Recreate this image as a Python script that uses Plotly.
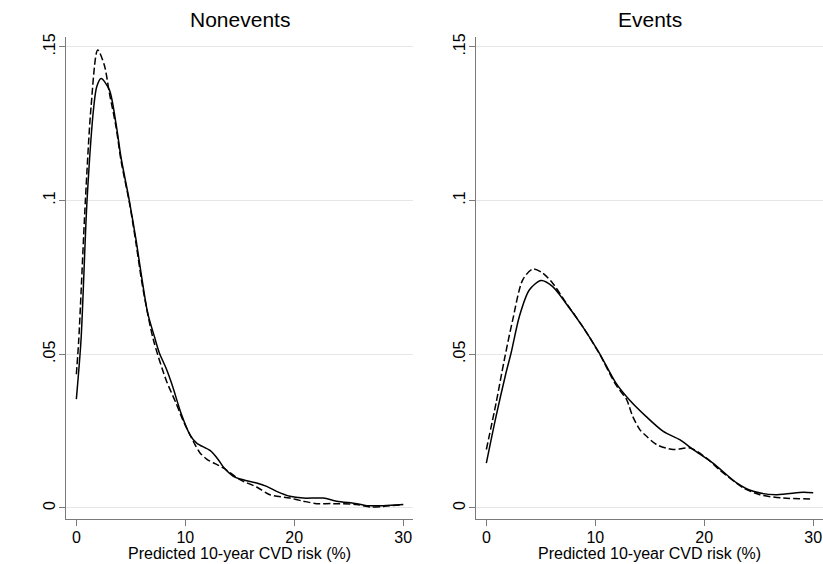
import plotly.graph_objects as go

# Kernel density of predicted 10-year CVD risk, two models per panel
# Nonevents panel
non_solid_x = [0, 0.43, 0.98, 1.6, 1.87, 2.27, 3.03, 3.64, 4.1, 4.86, 5.48, 5.94, 6.55,
               7.16, 7.62, 8.23, 8.84, 9.6, 10.43, 11.04, 12.27, 13.03, 13.49, 14.41,
               15.02, 16.55, 17.47, 18.38, 19.6, 20.83, 22.66, 23.89, 25.72, 26.64,
               28.17, 30.0]
non_solid_y = [0.0354, 0.0547, 0.100, 0.1305, 0.137, 0.1397, 0.136, 0.125, 0.114, 0.100,
               0.0872, 0.0764, 0.0634, 0.0558, 0.0504, 0.0455, 0.0395, 0.0309, 0.0238,
               0.0211, 0.0187, 0.0157, 0.0133, 0.0103, 0.0094, 0.0081, 0.0070, 0.0054,
               0.0038, 0.0032, 0.0032, 0.0022, 0.0014, 0.00075, 0.00075, 0.0011]

non_dash_x = [0, 0.22, 0.83, 1.35, 1.96, 2.57, 3.03, 3.64, 4.1, 4.86, 5.48, 5.94, 6.3,
              7.07, 8.23, 9.15, 9.76, 10.43, 10.89, 11.35, 11.96, 12.72, 13.49, 15.02,
              16.55, 17.77, 19.6, 20.83, 22.05, 23.58, 25.72, 26.94, 28.17, 30.0]
non_dash_y = [0.0435, 0.0547, 0.100, 0.1305, 0.149, 0.144, 0.135, 0.124, 0.113, 0.0995,
              0.086, 0.075, 0.0677, 0.0547, 0.0417, 0.0341, 0.0287, 0.0238, 0.0206,
              0.0179, 0.0159, 0.0144, 0.0130, 0.0092, 0.0068, 0.0043, 0.0032, 0.0022,
              0.0014, 0.0014, 0.0011, 0.0003, 0.0005, 0.0011]

# Events panel
ev_solid_x = [0, 0.89, 1.8, 2.27, 3.03, 3.94, 5.02, 6.09, 7.3, 8.84, 10.37, 11.9, 13.12,
              14.65, 16.24, 17.75, 18.99, 20.8, 23.0, 24.5, 26.6, 29.1, 30.0]
ev_solid_y = [0.0146, 0.0298, 0.0439, 0.0504, 0.0623, 0.0709, 0.074, 0.072, 0.0666,
              0.059, 0.0504, 0.0406, 0.0352, 0.0298, 0.0249, 0.0222, 0.019, 0.0146,
              0.0081, 0.0054, 0.0043, 0.0051, 0.0049]

ev_dash_x = [0, 0.89, 1.65, 2.42, 3.34, 4.26, 5.17, 6.09, 7.3, 8.84, 10.37, 11.9, 12.88,
             13.43, 14.1, 14.65, 15.63, 17.16, 18.7, 20.2, 21.4, 23.6, 25.1, 27.25, 30.0]
ev_dash_y = [0.019, 0.0341, 0.0482, 0.0612, 0.0742, 0.0777, 0.0764, 0.0731, 0.0668,
             0.059, 0.0502, 0.040, 0.0352, 0.0298, 0.0254, 0.0235, 0.0206, 0.019,
             0.0195, 0.0162, 0.0124, 0.0065, 0.0043, 0.0032, 0.0029]

panel_titles = ["Nonevents", "Events"]
x_title = "Predicted 10-year CVD risk (%)"
x_ticks = [0, 10, 20, 30]
y_ticks = [0, 0.05, 0.1, 0.15]
y_tick_text = ["0", ".05", ".1", ".15"]

FONT = "Liberation Sans, Arial, sans-serif"
AXIS_GRAY = "#7a7a7a"
GRID_GRAY = "#e6e6e6"

fig = go.Figure()

line_solid = dict(color="black", width=1.5, shape="spline", smoothing=0.8)
line_dash = dict(color="black", width=1.5, shape="spline", smoothing=0.8, dash="7px,3px")

fig.add_trace(go.Scatter(x=non_solid_x, y=non_solid_y, mode="lines", line=line_solid,
                         xaxis="x", yaxis="y", showlegend=False))
fig.add_trace(go.Scatter(x=non_dash_x, y=non_dash_y, mode="lines", line=line_dash,
                         xaxis="x", yaxis="y", showlegend=False))
fig.add_trace(go.Scatter(x=ev_solid_x, y=ev_solid_y, mode="lines", line=line_solid,
                         xaxis="x2", yaxis="y2", showlegend=False))
fig.add_trace(go.Scatter(x=ev_dash_x, y=ev_dash_y, mode="lines", line=line_dash,
                         xaxis="x2", yaxis="y2", showlegend=False))

x_common = dict(range=[-0.95, 30.9], tickvals=x_ticks, ticks="outside", ticklen=6,
                tickcolor=AXIS_GRAY, showline=True, linecolor=AXIS_GRAY, linewidth=1,
                showgrid=False, zeroline=False, tickfont=dict(size=16, color="black"),
                ticklabelstandoff=-2)
y_common = dict(range=[-0.0036, 0.1532], tickvals=y_ticks, ticktext=y_tick_text,
                ticks="outside", ticklen=6, tickcolor=AXIS_GRAY, showline=True,
                linecolor=AXIS_GRAY, linewidth=1, showgrid=True, gridcolor=GRID_GRAY,
                gridwidth=1, zeroline=False, tickangle=-90,
                tickfont=dict(size=16, color="black"), ticklabelstandoff=-2)

left_dom = [0, 347 / 757]
right_dom = [410 / 757, 1]

fig.update_layout(
    width=823, height=564,
    margin=dict(l=66, r=0, t=37, b=45),
    paper_bgcolor="white", plot_bgcolor="white",
    font=dict(family=FONT, color="black"),
    xaxis=dict(domain=left_dom, anchor="y", **x_common),
    yaxis=dict(domain=[0, 1], anchor="x", **y_common),
    xaxis2=dict(domain=right_dom, anchor="y2", **x_common),
    yaxis2=dict(domain=[0, 1], anchor="x2", **y_common),
)

# Panel titles and x-axis titles
for dom, title in zip([left_dom, right_dom], panel_titles):
    cx = (dom[0] + dom[1]) / 2
    fig.add_annotation(text=title, xref="paper", yref="paper", x=cx, y=1.037,
                       xanchor="center", yanchor="middle", showarrow=False,
                       font=dict(size=21, color="black", family=FONT))
    fig.add_annotation(text=x_title, xref="paper", yref="paper", x=cx, y=-0.072,
                       xanchor="center", yanchor="middle", showarrow=False,
                       font=dict(size=16, color="black", family=FONT))

fig.write_html("out.html")
